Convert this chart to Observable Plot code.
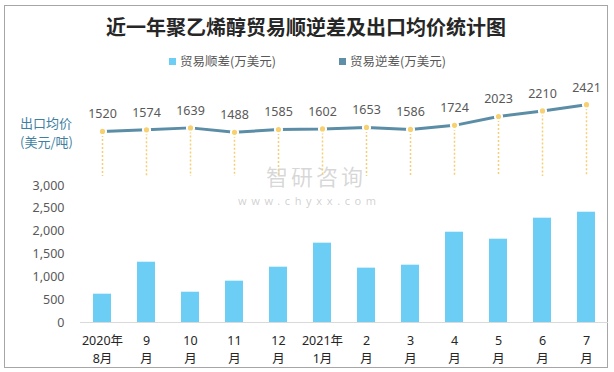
<!DOCTYPE html>
<html>
<head>
<meta charset="utf-8">
<script src="https://cdn.jsdelivr.net/npm/d3@7"></script>
<script src="https://cdn.jsdelivr.net/npm/@observablehq/plot@0.6"></script>
<style>
  body { margin: 0; background: #fff; }
  #wrap { position: relative; width: 614px; height: 372px; overflow: hidden; background: #fff;
          font-family: "Noto Sans", "Noto Sans CJK SC", sans-serif; }
  #wrap svg { position: absolute; left: 0; top: 0; }
  .border { position: absolute; left: 4px; top: 5px; width: 602px; height: 361px; border: 1px solid #a6a6a6; }
  .title { position: absolute; left: 0; top: 12px; width: 612px; text-align: center; font-size: 20px;
           font-weight: bold; color: #262626; font-family: "Noto Sans CJK SC", sans-serif; line-height: 30px; }
  .leg { position: absolute; top: 52px; font-size: 12.5px; color: #595959; line-height: 18px;
         font-family: "Noto Sans CJK SC", sans-serif; white-space: nowrap; }
  .leg i { display: inline-block; width: 7px; height: 7px; margin-right: 4px; vertical-align: 1px; }
  .lab { position: absolute; left: 20px; top: 113px; font-size: 13px; color: #3f7f9f; line-height: 19px;
         font-family: "Noto Sans CJK SC", sans-serif; }
  .wm1 { position: absolute; left: 266px; top: 163px; font-size: 22px; color: rgba(140,140,140,0.35);
         font-family: "Noto Sans CJK SC", sans-serif; line-height: 24px; letter-spacing: 3px; }
  .wm2 { position: absolute; left: 238px; top: 195px; font-size: 11px; color: rgba(140,140,140,0.4);
         letter-spacing: 4.6px; line-height: 12px; }
</style>
</head>
<body>
<div id="wrap">
  <div class="border"></div>
  <div class="title">近一年聚乙烯醇贸易顺逆差及出口均价统计图</div>
  <div class="leg" style="left:169px"><i style="background:#6ccdf5"></i>贸易顺差(万美元)</div>
  <div class="leg" style="left:339px"><i style="background:#5f8fa6"></i>贸易逆差(万美元)</div>
  <div class="lab">出口均价<br>(美元/吨)</div>
  <div class="wm1">智研咨询</div>
  <div class="wm2">www.chyxx.com</div>
</div>
<script>
const months = ["2020年\n8月", "9\n月", "10\n月", "11\n月", "12\n月", "2021年\n1月", "2\n月", "3\n月", "4\n月", "5\n月", "6\n月", "7\n月"];
const surplus = [620, 1320, 663, 905, 1211, 1737, 1190, 1255, 1977, 1824, 2284, 2415];
const price = [1520, 1574, 1639, 1488, 1585, 1602, 1653, 1586, 1724, 2023, 2210, 2421];
const yTicks = [0, 500, 1000, 1500, 2000, 2500, 3000];

const rows = months.map((m, i) => ({month: m, surplus: surplus[i], price: price[i]}));

const xOpts = {domain: months, type: "band", paddingInner: 0.59, paddingOuter: 0.295, axis: null};
const style = {fontFamily: '"Noto Sans", "Noto Sans CJK SC", sans-serif', fontSize: "12px", background: "transparent", overflow: "visible"};

const bars = Plot.plot({
  width: 614, height: 372,
  marginLeft: 80, marginRight: 6, marginTop: 185, marginBottom: 50,
  style,
  x: xOpts,
  y: {domain: [0, 3000], axis: null, label: null},
  marks: [
    Plot.barY(rows, {x: "month", y: "surplus", fill: "#6ccdf5"}),
    Plot.ruleY([0], {stroke: "#d9d9d9", strokeWidth: 1.2}),
    Plot.axisY(yTicks, {tickFormat: d3.format(","), tickSize: 0, tickPadding: 16, fontSize: 12.5, fill: "#595959", label: null}),
    Plot.text(rows, {x: "month", text: "month", frameAnchor: "bottom", dy: 26, lineAnchor: "middle",
                     lineHeight: 1.38, fontSize: 12.5, fill: "#262626"})
  ]
});

const line = Plot.plot({
  width: 614, height: 372,
  marginLeft: 80, marginRight: 6, marginTop: 87, marginBottom: 196,
  style,
  x: xOpts,
  y: {domain: [0, 3000], axis: null, label: null},
  marks: [
    Plot.ruleX(rows, {x: "month", y1: "price", y2: 0, stroke: "#f5cf73", strokeWidth: 1.5, strokeDasharray: "2,2"}),
    Plot.lineY(rows, {x: "month", y: "price", stroke: "#5b8da6", strokeWidth: 3}),
    Plot.dot(rows, {x: "month", y: "price", r: 3.6, fill: "#f7d171", stroke: "#fff", strokeWidth: 2}),
    Plot.text(rows, {x: "month", y: "price", text: d => String(d.price), dy: -17, fontSize: 12.5, fill: "#595959"})
  ]
});

const wrap = document.getElementById("wrap");
wrap.appendChild(bars);
wrap.appendChild(line);
</script>
</body>
</html>
